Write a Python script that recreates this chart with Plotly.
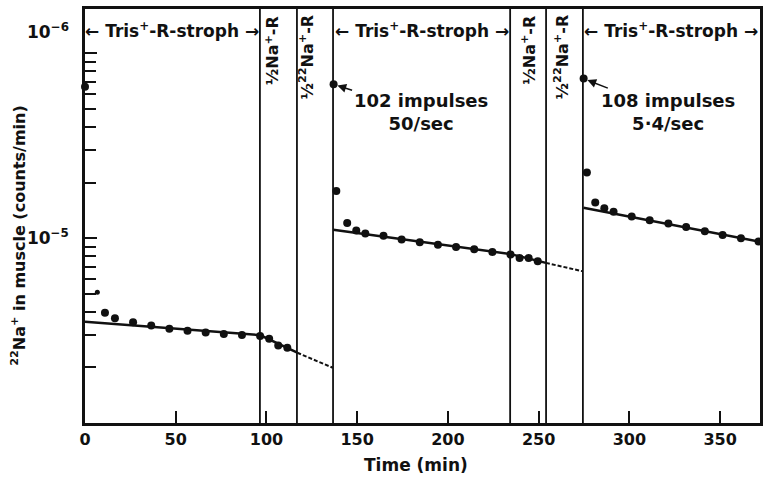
import numpy as np
import plotly.graph_objects as go

# ---------------- data ----------------
# Time in min, 22Na+ in muscle in counts/min (axis labelled as in the original)
seg1_time = [0, 11, 16.5, 26.5, 36.5, 46.5, 56.5, 66.5, 76.5, 86.5, 96.5, 101.5, 106.5, 111.5]
seg1_counts = [6.6e5, 3.95e4, 3.69e4, 3.51e4, 3.37e4, 3.24e4, 3.16e4, 3.09e4, 3.03e4,
               2.99e4, 2.96e4, 2.86e4, 2.63e4, 2.55e4]
small_time = [6.8]
small_counts = [5.1e4]

seg2_time = [137, 138.5, 144.5, 149.5, 154.5, 164.5, 174.5, 184.5, 194.5, 204.5, 214.5,
             224.5, 234.5, 239.5, 244.5, 249.5]
seg2_counts = [6.8e5, 1.80e5, 1.21e5, 1.10e5, 1.06e5, 1.03e5, 9.84e4, 9.52e4, 9.22e4,
               8.96e4, 8.70e4, 8.41e4, 8.15e4, 7.8e4, 7.8e4, 7.5e4]

seg3_time = [274.8, 276.6, 281.2, 286.2, 291.3, 301.3, 311.2, 321.5, 331.3, 341.6, 351.4,
             361.5, 371.2]
seg3_counts = [7.3e5, 2.27e5, 1.56e5, 1.45e5, 1.39e5, 1.31e5, 1.25e5, 1.20e5, 1.15e5,
               1.09e5, 1.04e5, 1.00e5, 9.6e4]

# fitted lines (solid and dashed extrapolations)
fit1_time = [0, 96.4, 117]
fit1_counts = [3.53e4, 2.99e4, 2.40e4]
fit1_dash_time = [117, 136.6]
fit1_dash_counts = [2.40e4, 1.99e4]
fit2_time = [136.8, 234.6, 254]
fit2_counts = [1.11e5, 8.2e4, 7.35e4]
fit2_dash_time = [254, 274.3]
fit2_dash_counts = [7.35e4, 6.62e4]
fit3_time = [274.7, 372]
fit3_counts = [1.46e5, 9.55e4]

# solution changes (vertical lines)
change_times = [96.4, 116.8, 136.7, 234.3, 254.1, 274.4]

# period labels
tris_label_times = [48.2, 185.5, 323.2]
na_label_times = [103.3, 244.7]
na22_label_times = [122.3, 262.8]

# stimulation annotations
stim_time = [137, 274.8]
stim_counts = [6.8e5, 7.3e5]
stim_text = ["102 impulses<br>50/sec", "108 impulses<br>5·4/sec"]

x_ticks = [0, 50, 100, 150, 200, 250, 300, 350]
y_major = [1e5, 1e6]
y_major_text = ["10<sup>−5</sup>", ""]
y_minor = [k * 1e4 for k in range(2, 10)] + [k * 1e5 for k in range(2, 10)]

# ---------------- figure ----------------
FONT = "DejaVu Sans"
BLACK = "#111111"

fig = go.Figure()

dot = dict(color=BLACK, size=8)
for tt, cc in [(seg1_time, seg1_counts), (seg2_time, seg2_counts), (seg3_time, seg3_counts)]:
    fig.add_trace(go.Scatter(x=tt, y=cc, mode="markers", marker=dot, cliponaxis=False,
                             showlegend=False, hoverinfo="skip"))
fig.add_trace(go.Scatter(x=small_time, y=small_counts, mode="markers",
                         marker=dict(color=BLACK, size=5), showlegend=False, hoverinfo="skip"))

for tt, cc in [(fit1_time, fit1_counts), (fit2_time, fit2_counts), (fit3_time, fit3_counts)]:
    fig.add_trace(go.Scatter(x=tt, y=cc, mode="lines", line=dict(color=BLACK, width=2.5),
                             showlegend=False, hoverinfo="skip"))
for tt, cc in [(fit1_dash_time, fit1_dash_counts), (fit2_dash_time, fit2_dash_counts)]:
    fig.add_trace(go.Scatter(x=tt, y=cc, mode="lines",
                             line=dict(color=BLACK, width=2, dash="4px,2px"),
                             showlegend=False, hoverinfo="skip"))

for tc in change_times:
    fig.add_shape(type="line", xref="x", yref="paper", x0=tc, x1=tc, y0=0, y1=1,
                  line=dict(color=BLACK, width=1.8))

ann_font = dict(family=FONT, size=17, color=BLACK, weight="bold")

for tt in tris_label_times:
    fig.add_annotation(x=tt, y=0.9496, xref="x", yref="paper",
                       text="← Tris<sup>+</sup>-R-stroph →", showarrow=False,
                       font=ann_font, xanchor="center", yanchor="middle")
for tt in na_label_times:
    fig.add_annotation(x=tt, y=0.899, xref="x", yref="paper",
                       text="½Na<sup>+</sup>-R", showarrow=False, textangle=-90,
                       font=dict(family=FONT, size=16, color=BLACK, weight="bold"),
                       xanchor="center", yanchor="middle")
for tt in na22_label_times:
    fig.add_annotation(x=tt, y=0.885, xref="x", yref="paper",
                       text="½<sup>22</sup>Na<sup>+</sup>-R", showarrow=False, textangle=-90,
                       font=dict(family=FONT, size=16, color=BLACK, weight="bold"),
                       xanchor="center", yanchor="middle")

for tt, cc, txt, axp, ayp in zip(stim_time, stim_counts, stim_text, [87, 84], [28, 33]):
    fig.add_annotation(x=tt, y=np.log10(cc), xref="x", yref="y", text=txt,
                       showarrow=True, arrowhead=2, arrowsize=1.1, arrowwidth=1.6,
                       arrowcolor=BLACK, standoff=4, ax=axp, ay=ayp,
                       font=dict(family=FONT, size=18, color=BLACK, weight="bold"),
                       align="center")

# "10^-6" label (sits above its tick in the original)
fig.add_annotation(x=0, y=6, xref="paper", yref="y", text="10<sup>−6</sup>",
                   showarrow=False, xanchor="right", yanchor="middle", xshift=-14, yshift=22,
                   font=dict(family=FONT, size=17, color=BLACK, weight="bold"))

# axis titles
fig.add_annotation(x=0.491, y=-0.1007, xref="paper", yref="paper", text="Time (min)",
                   showarrow=False, xanchor="center", yanchor="middle",
                   font=dict(family=FONT, size=17, color=BLACK, weight="bold"))
fig.add_annotation(x=-0.0988, y=0.453, xref="paper", yref="paper",
                   text="<sup>22</sup>Na<sup>+</sup> in muscle (counts/min)",
                   showarrow=False, textangle=-90, xanchor="center", yanchor="middle",
                   font=dict(family=FONT, size=16, color=BLACK, weight="bold"))

fig.update_xaxes(range=[0, 372], tickvals=x_ticks, ticks="inside", ticklen=12, tickwidth=2,
                 tickcolor=BLACK, showline=True, linewidth=2.5, linecolor=BLACK, mirror=True,
                 showgrid=False, zeroline=False,
                 tickfont=dict(family=FONT, size=16, color=BLACK, weight="bold"))
fig.update_yaxes(type="log", range=[4.0, 6.24], tickvals=y_major, ticktext=y_major_text,
                 ticks="inside", ticklen=12, tickwidth=2, tickcolor=BLACK,
                 minor=dict(tickvals=y_minor, ticks="inside", ticklen=11, tickwidth=2,
                            tickcolor=BLACK, showgrid=False),
                 showline=True, linewidth=2.5, linecolor=BLACK, mirror=True,
                 showgrid=False, zeroline=False, ticklabelstandoff=10,
                 tickfont=dict(family=FONT, size=17, color=BLACK, weight="bold"))

fig.update_layout(width=769, height=477, margin=dict(l=85, r=6, t=6, b=54),
                  plot_bgcolor="white", paper_bgcolor="white",
                  font=dict(family=FONT, color=BLACK, weight="bold"), showlegend=False)

fig.write_html("out.html")
